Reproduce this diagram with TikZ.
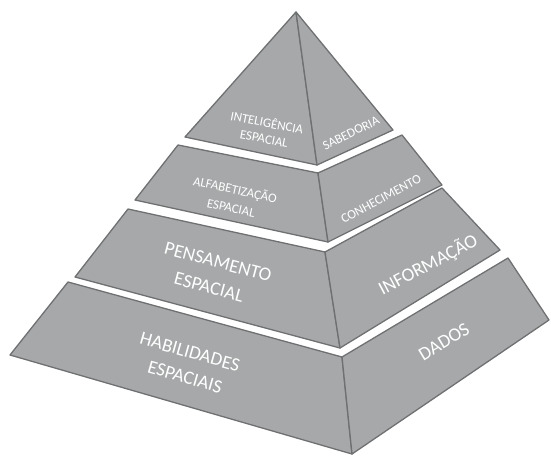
\documentclass[tikz,border=0pt]{standalone}
\usepackage{fontspec}
\setmainfont{Carlito}
\definecolor{facegray}{HTML}{A6A8A9}
\definecolor{edgegray}{HTML}{6E7071}
\tikzset{
  face/.style={fill=facegray, draw=edgegray, line width=1.3pt, line join=round},
  lbl/.style={text=white, inner sep=0pt, font=\fontsize{#1}{#1}\selectfont},
  lbl/.default=12
}
\begin{document}
\begin{tikzpicture}[x=1pt,y=-1pt]
\useasboundingbox (0,0) rectangle (551,455);
% tier 1 (apex)
\coordinate (A) at (296,12);
\coordinate (L1) at (185,137);
\coordinate (F1) at (317,165);
\coordinate (R1) at (393,130);
% tier 2
\coordinate (T2l) at (178,145);
\coordinate (T2f) at (318,173);
\coordinate (T2r) at (402,135);
\coordinate (B2l) at (135,200);
\coordinate (B2f) at (328,242);
\coordinate (B2r) at (442,185);
% tier 3
\coordinate (T3l) at (128,209);
\coordinate (T3f) at (325,252);
\coordinate (T3r) at (442,188);
\coordinate (B3l) at (75,277);
\coordinate (B3f) at (340,348);
\coordinate (B3r) at (500,250);
% tier 4
\coordinate (T4l) at (68,282);
\coordinate (T4f) at (342,357);
\coordinate (T4r) at (508,258);
\coordinate (B4l) at (10,355);
\coordinate (B4f) at (352,454);
\coordinate (B4r) at (549,320);

\draw[face] (A) -- (L1) -- (F1) -- cycle;
\draw[face] (A) -- (F1) -- (R1) -- cycle;
\draw[face] (T2l) -- (T2f) -- (B2f) -- (B2l) -- cycle;
\draw[face] (T2f) -- (T2r) -- (B2r) -- (B2f) -- cycle;
\draw[face] (T3l) -- (T3f) -- (B3f) -- (B3l) -- cycle;
\draw[face] (T3f) -- (T3r) -- (B3r) -- (B3f) -- cycle;
\draw[face] (T4l) -- (T4f) -- (B4f) -- (B4l) -- cycle;
\draw[face] (T4f) -- (T4r) -- (B4r) -- (B4f) -- cycle;

\node[lbl=13, rotate=-11] (intelA) at (267,122) {INTELIGÊNCIA};
\node[lbl=13, rotate=-11] (intelB) at (264,139) {ESPACIAL};
\node[lbl=13, rotate=26] (sab) at (351,133) {SABEDORIA};
\node[lbl=13, rotate=-12] (alfaA) at (235,190) {ALFABETIZAÇÃO};
\node[lbl=13, rotate=-12] (alfaB) at (231,208) {ESPACIAL};
\node[lbl=13, rotate=28] (conh) at (381,199) {CONHECIMENTO};
\node[lbl=19, rotate=-15] (pensA) at (218,262) {PENSAMENTO};
\node[lbl=19, rotate=-15] (pensB) at (209,287) {ESPACIAL};
\node[lbl=19, rotate=28] (info) at (428,265) {INFORMAÇÃO};
\node[lbl=19, rotate=-16] (habilA) at (190,352) {HABILIDADES};
\node[lbl=19, rotate=-16] (habilB) at (185,377) {ESPACIAIS};
\node[lbl=19, rotate=31] (dados) at (444,342) {DADOS};
\end{tikzpicture}
\end{document}
